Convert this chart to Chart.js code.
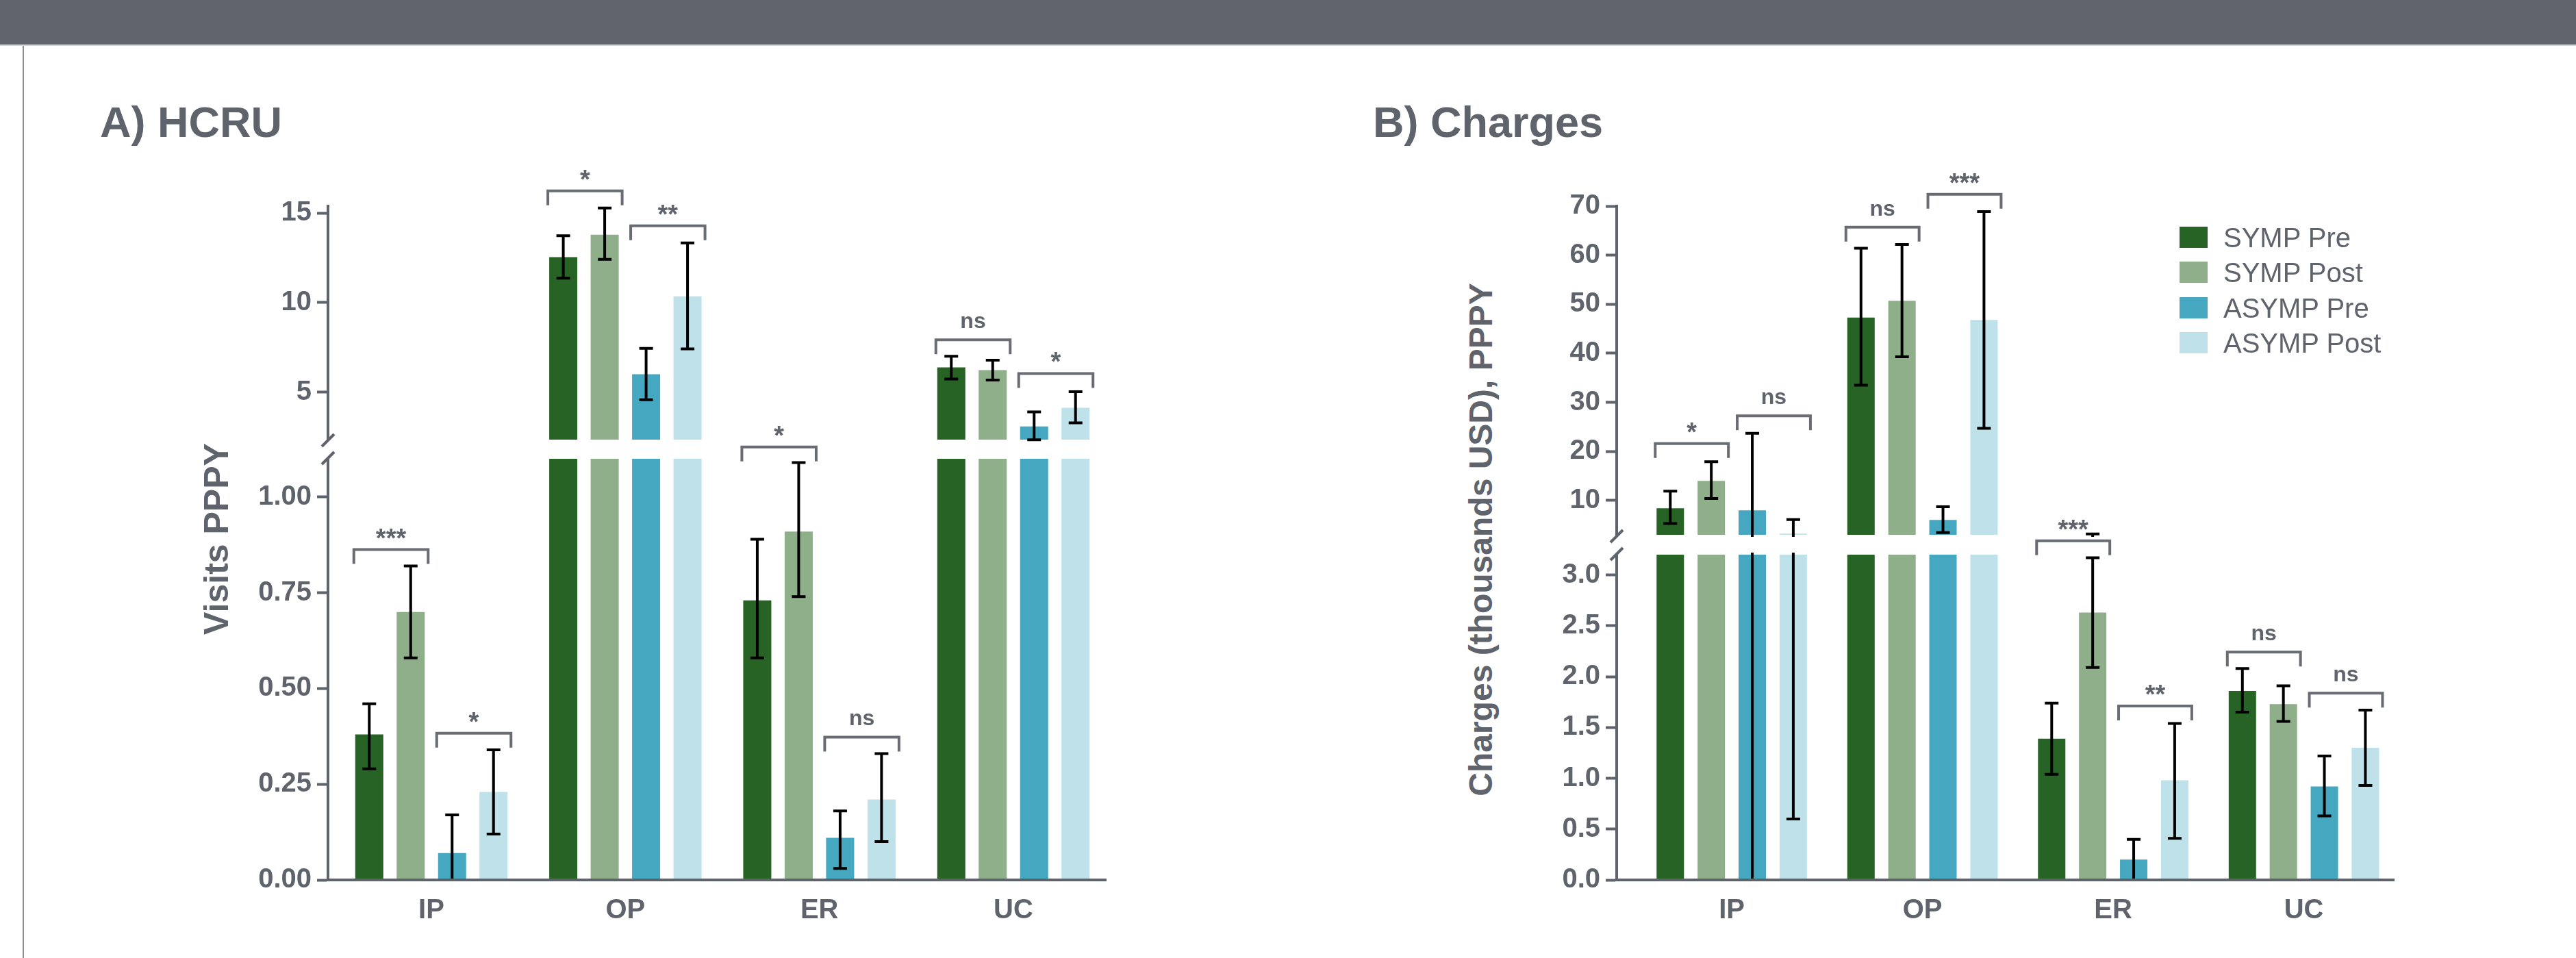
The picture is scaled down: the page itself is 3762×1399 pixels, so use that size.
<!DOCTYPE html>
<html>
<head>
<meta charset="utf-8">
<script src="https://cdn.jsdelivr.net/npm/chart.js@4.4.1/dist/chart.umd.min.js"></script>
<style>
  body { margin: 0; background: #fff; }
  #page { position: relative; width: 3762px; height: 1399px; overflow: hidden; background: #fff;
          font-family: "Liberation Sans", Arial, sans-serif; color: #5f636b; }
  .abs { position: absolute; }
  canvas { position: absolute; top: 0; }
  .head { position: absolute; font-size: 63px; font-weight: bold; line-height: 1; white-space: nowrap; }
  .ytitle { position: absolute; font-weight: bold; line-height: 1; white-space: nowrap;
            transform: translate(-50%, -50%) rotate(-90deg); }
</style>
</head>
<body>
<div id="page">
  <div class="abs" style="left:0;top:0;width:3762px;height:65px;background:#61646c"></div>
  <div class="abs" style="left:0;top:65px;width:3762px;height:2px;background:#d3d7d6"></div>
  <div class="abs" style="left:33px;top:67px;width:2px;height:1332px;background:#8a8d93"></div>

  <div class="head" style="left:146px;top:147px">A) HCRU</div>
  <div class="head" style="left:2005px;top:147px">B) Charges</div>
  <div class="ytitle" style="left:316px;top:787px;font-size:50px">Visits PPPY</div>
  <div class="ytitle" style="left:2163px;top:788px;font-size:48px">Charges (thousands USD), PPPY</div>

  <canvas id="aTop" width="1800" height="1399" style="left:0"></canvas>
  <canvas id="aBot" width="1800" height="1399" style="left:0"></canvas>
  <canvas id="bTop" width="1962" height="1399" style="left:1800px"></canvas>
  <canvas id="bBot" width="1962" height="1399" style="left:1800px"></canvas>

  <div id="legend" class="abs" style="left:3183px;top:331px"></div>
</div>

<script>
// categories and series
const categories = ['IP', 'OP', 'ER', 'UC'];
const seriesNames = ['SYMP Pre', 'SYMP Post', 'ASYMP Pre', 'ASYMP Post'];
const seriesColors = ['#276324', '#8fae8a', '#45a8c0', '#bfe1e9'];

// A) HCRU - visits PPPY (mean, error bar low, error bar high)
const hcruSympPre      = [0.38, 12.55, 0.73, 6.38];
const hcruSympPreLow   = [0.29, 11.37, 0.58, 5.73];
const hcruSympPreHigh  = [0.46, 13.74, 0.89, 7.00];
const hcruSympPost     = [0.70, 13.80, 0.91, 6.23];
const hcruSympPostLow  = [0.58, 12.42, 0.74, 5.67];
const hcruSympPostHigh = [0.82, 15.29, 1.09, 6.78];
const hcruAsympPre     = [0.07, 6.00, 0.11, 3.08];
const hcruAsympPreLow  = [0.00, 4.57, 0.03, 2.33];
const hcruAsympPreHigh = [0.17, 7.44, 0.18, 3.89];
const hcruAsympPost     = [0.23, 10.35, 0.21, 4.12];
const hcruAsympPostLow  = [0.12, 7.41, 0.10, 3.28];
const hcruAsympPostHigh = [0.34, 13.34, 0.33, 5.02];

// B) Charges - thousands USD PPPY
const chgSympPre      = [8.4, 47.3, 1.39, 1.86];
const chgSympPreLow   = [5.3, 33.5, 1.04, 1.65];
const chgSympPreHigh  = [11.9, 61.4, 1.74, 2.08];
const chgSympPost     = [14.0, 50.7, 2.63, 1.73];
const chgSympPostLow  = [10.4, 39.3, 2.09, 1.56];
const chgSympPostHigh = [17.9, 62.2, 3.17, 1.91];
const chgAsympPre     = [8.0, 6.05, 0.20, 0.92];
const chgAsympPreLow  = [0.0, 3.45, 0.00, 0.63];
const chgAsympPreHigh = [23.7, 8.73, 0.40, 1.22];
const chgAsympPost     = [3.25, 46.8, 0.98, 1.30];
const chgAsympPostLow  = [0.6, 24.7, 0.41, 0.93];
const chgAsympPostHigh = [6.1, 68.9, 1.54, 1.67];

// significance brackets: order IP sym, IP asym, OP sym, OP asym, ER sym, ER asym, UC sym, UC asym
const hcruSigLabels = ['***', '*', '*', '**', '*', 'ns', 'ns', '*'];
const hcruSigLevels = [0.863, 0.383, 16.25, 14.3, 1.131, 0.373, 7.92, 6.04];
const hcruSigUpper  = [false, false, true, true, false, false, true, true];
const chgSigLabels = ['*', 'ns', 'ns', '***', '***', '**', 'ns', 'ns'];
const chgSigLevels = [21.6, 27.25, 65.7, 72.4, 3.336, 1.711, 2.242, 1.838];
const chgSigUpper  = [true, true, true, true, false, false, false, false];

// broken y axes
const hcruTopRange = [2.34, 15.4];
const hcruBotRange = [0, 1.1];
const hcruTopTicks = [5, 10, 15];
const hcruBotTicks = [0, 0.25, 0.5, 0.75, 1.0];
const chgTopRange = [3, 70];
const chgBotRange = [0, 3.2];
const chgTopTicks = [10, 20, 30, 40, 50, 60, 70];
const chgBotTicks = [0, 0.5, 1.0, 1.5, 2.0, 2.5, 3.0];

const GRAY = '#5f636b';
const BRACKET = '#696c73';
const FONT = '"Liberation Sans", Arial, sans-serif';

const panelMarks = {};

const marksPlugin = {
  id: 'marks',
  afterDatasetsDraw(chart) {
    const m = panelMarks[chart.canvas.id];
    if (!m) return;
    const { ctx, chartArea: a } = chart;
    const y = chart.scales.y;

    // error bars, clipped to this axis segment
    ctx.save();
    ctx.beginPath();
    ctx.rect(a.left, a.top - 3, a.right - a.left, a.bottom - a.top + 6);
    ctx.clip();
    ctx.strokeStyle = '#000';
    ctx.lineWidth = 4;
    m.low.forEach((lows, k) => {
      chart.getDatasetMeta(k).data.forEach((bar, i) => {
        const yl = y.getPixelForValue(lows[i]);
        const yh = y.getPixelForValue(m.high[k][i]);
        ctx.beginPath();
        ctx.moveTo(bar.x, yl); ctx.lineTo(bar.x, yh);
        ctx.moveTo(bar.x - 10, yl); ctx.lineTo(bar.x + 10, yl);
        ctx.moveTo(bar.x - 10, yh); ctx.lineTo(bar.x + 10, yh);
        ctx.stroke();
      });
    });
    ctx.restore();

    // significance brackets
    ctx.save();
    ctx.strokeStyle = BRACKET;
    ctx.fillStyle = GRAY;
    ctx.lineWidth = 4;
    ctx.textAlign = 'center';
    ctx.textBaseline = 'alphabetic';
    m.brackets.forEach(([cat, pair, level, label]) => {
      const b1 = chart.getDatasetMeta(pair * 2).data[cat];
      const b2 = chart.getDatasetMeta(pair * 2 + 1).data[cat];
      const x1 = b1.x - b1.width / 2 - 2;
      const x2 = b2.x + b2.width / 2 + 5;
      const yy = y.getPixelForValue(level);
      ctx.beginPath();
      ctx.moveTo(x1, yy + 21); ctx.lineTo(x1, yy); ctx.lineTo(x2, yy); ctx.lineTo(x2, yy + 21);
      ctx.stroke();
      const stars = label.includes('*');
      ctx.font = `bold ${stars ? 38 : 32}px ${FONT}`;
      ctx.fillText(label, (x1 + x2) / 2, yy - (stars ? 4 : 17));
    });
    ctx.restore();
  },
  afterDraw(chart) {
    const m = panelMarks[chart.canvas.id];
    if (!m || !m.breaks) return;
    const { ctx, chartArea: a } = chart;
    ctx.save();
    ctx.strokeStyle = GRAY;
    ctx.lineWidth = 4;
    [a.top - 27, a.top - 1].forEach(cy => {
      ctx.beginPath();
      ctx.moveTo(a.left - 9, cy + 9);
      ctx.lineTo(a.left + 9, cy - 9);
      ctx.stroke();
    });
    ctx.restore();
  }
};
Chart.register(marksPlugin);

function xScale(range, show) {
  const s = {
    type: 'linear', min: range[0], max: range[1], offset: false, display: show,
    grid: { display: false, drawTicks: false, offset: false },
    border: { display: true, color: GRAY, width: 4, z: 1 },
    ticks: { padding: 21, autoSkip: false, maxRotation: 0, color: GRAY,
             font: { family: FONT, size: 40, weight: 'bold' },
             callback: v => categories[v] },
    afterBuildTicks: sc => { sc.ticks = categories.map((c, i) => ({ value: i })); }
  };
  if (show) s.afterFit = sc => { sc.height = 80; };
  return s;
}

function yScale(range, ticks, decimals) {
  return {
    type: 'linear', min: range[0], max: range[1],
    grid: { display: true, drawOnChartArea: false, drawTicks: true, tickLength: 16, tickWidth: 4, tickColor: GRAY },
    border: { display: true, color: GRAY, width: 4, z: 1 },
    ticks: { padding: 8, color: GRAY, font: { family: FONT, size: 40, weight: 'bold' },
             callback: v => Number(v).toFixed(decimals) },
    afterBuildTicks: sc => { sc.ticks = ticks.map(v => ({ value: v })); },
    afterFit: sc => { sc.width = 150; }
  };
}

function barSets(values, catPct, barPct) {
  return values.map((vals, k) => ({
    label: seriesNames[k],
    data: vals.map((v, i) => ({ x: i, y: v })),
    backgroundColor: seriesColors[k],
    borderWidth: 0,
    categoryPercentage: catPct,
    barPercentage: barPct,
    clip: 0
  }));
}

function makeChart(id, p) {
  new Chart(document.getElementById(id), {
    type: 'bar',
    data: { datasets: barSets(p.values, p.catPct, p.barPct) },
    options: {
      responsive: false,
      animation: false,
      events: [],
      layout: { padding: p.padding },
      plugins: { legend: { display: false }, tooltip: { enabled: false } },
      scales: {
        x: xScale(p.xRange, p.showX),
        y: yScale(p.yRange, p.yTicks, p.decimals)
      }
    }
  });
}

function bracketsFor(labels, levels, upper, wantUpper) {
  const out = [];
  labels.forEach((lab, n) => {
    if (upper[n] === wantUpper) out.push([Math.floor(n / 2), n % 2, levels[n], lab]);
  });
  return out;
}

function makePanel(ids, d) {
  const low = d.low, high = d.high;
  panelMarks[ids[0]] = { low, high, breaks: false, brackets: bracketsFor(d.sigLabels, d.sigLevels, d.sigUpper, true) };
  panelMarks[ids[1]] = { low, high, breaks: true, brackets: bracketsFor(d.sigLabels, d.sigLevels, d.sigUpper, false) };
  const base = { values: d.values, catPct: d.catPct, barPct: d.barPct, xRange: d.xRange };
  makeChart(ids[0], Object.assign({}, base, {
    showX: false, yRange: d.topRange, yTicks: d.topTicks, decimals: d.topDecimals,
    padding: { left: d.padL, right: d.padR, top: d.topArea[0], bottom: 1399 - d.topArea[1] }
  }));
  makeChart(ids[1], Object.assign({}, base, {
    showX: true, yRange: d.botRange, yTicks: d.botTicks, decimals: d.botDecimals,
    padding: { left: d.padL, right: d.padR, top: d.botArea[0], bottom: 1399 - d.botArea[1] - 80 }
  }));
}

makePanel(['aTop', 'aBot'], {
  values: [hcruSympPre, hcruSympPost, hcruAsympPre, hcruAsympPost],
  low: [hcruSympPreLow, hcruSympPostLow, hcruAsympPreLow, hcruAsympPostLow],
  high: [hcruSympPreHigh, hcruSympPostHigh, hcruAsympPreHigh, hcruAsympPostHigh],
  sigLabels: hcruSigLabels, sigLevels: hcruSigLevels, sigUpper: hcruSigUpper,
  catPct: 0.854, barPct: 0.678, xRange: [-0.533, 3.4765],
  topRange: hcruTopRange, topTicks: hcruTopTicks, topDecimals: 0,
  botRange: hcruBotRange, botTicks: hcruBotTicks, botDecimals: 2,
  padL: 329, padR: 185, topArea: [301, 642], botArea: [670, 1285]
});

makePanel(['bTop', 'bBot'], {
  values: [chgSympPre, chgSympPost, chgAsympPre, chgAsympPost],
  low: [chgSympPreLow, chgSympPostLow, chgAsympPreLow, chgAsympPostLow],
  high: [chgSympPreHigh, chgSympPostHigh, chgAsympPreHigh, chgAsympPostHigh],
  sigLabels: chgSigLabels, sigLevels: chgSigLevels, sigUpper: chgSigUpper,
  catPct: 0.86, barPct: 0.668, xRange: [-0.6036, 3.4718],
  topRange: chgTopRange, topTicks: chgTopTicks, topDecimals: 0,
  botRange: chgBotRange, botTicks: chgBotTicks, botDecimals: 1,
  padL: 411, padR: 266, topArea: [301, 781], botArea: [810, 1285]
});

// legend
const legend = document.getElementById('legend');
seriesNames.forEach((name, k) => {
  const row = document.createElement('div');
  row.style.cssText = `position:absolute;left:0;top:${(k * 51.3).toFixed(1)}px;height:31px;`;
  row.innerHTML =
    `<span style="position:absolute;left:0;top:0;width:41px;height:31px;background:${seriesColors[k]}"></span>` +
    `<span style="position:absolute;left:64px;top:-4px;font-size:40px;line-height:1;white-space:nowrap">${name}</span>`;
  legend.appendChild(row);
});
</script>
</body>
</html>
